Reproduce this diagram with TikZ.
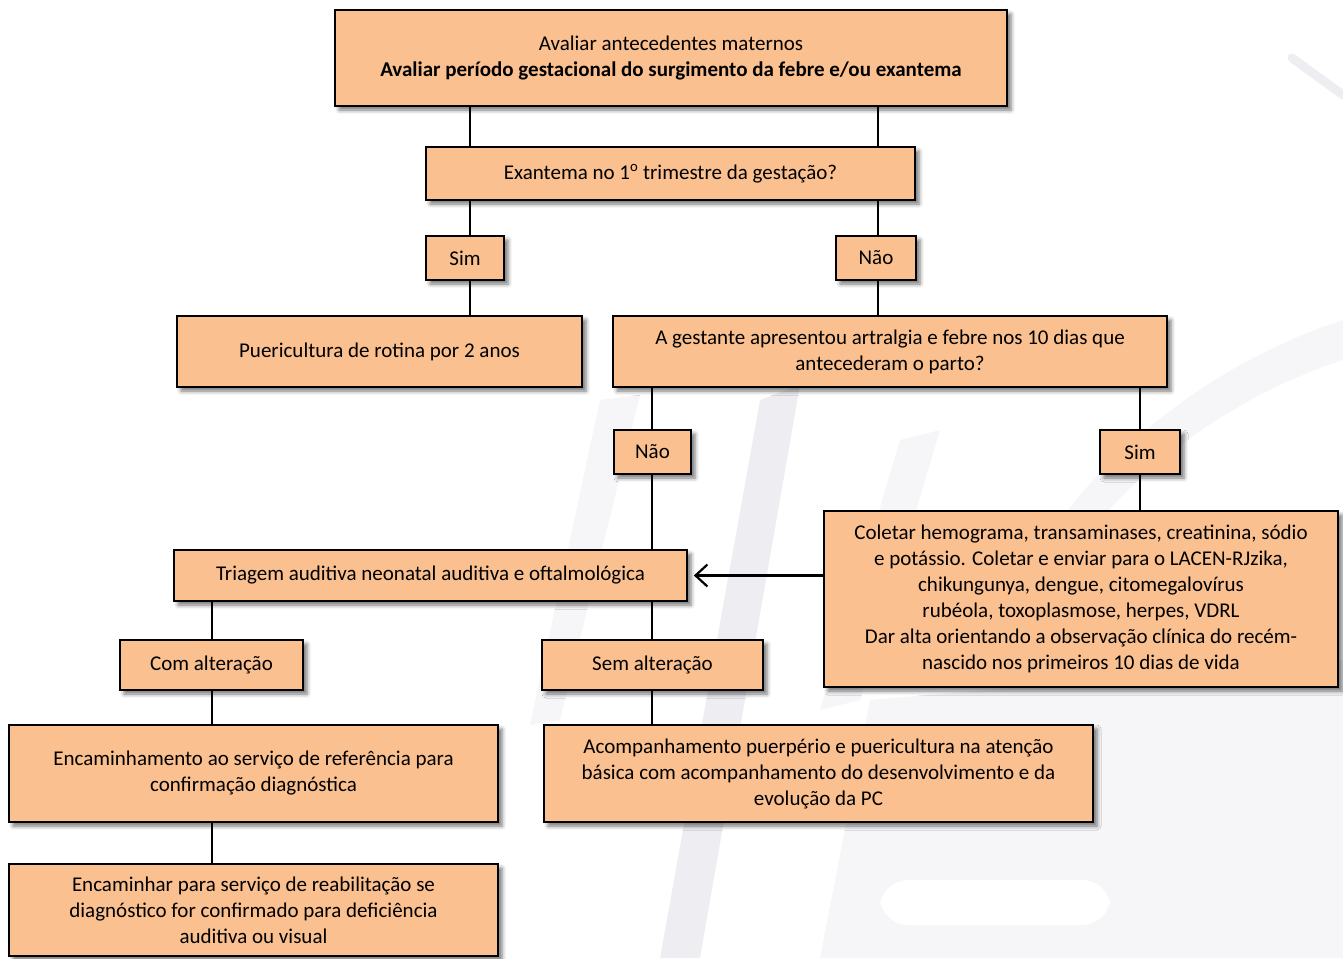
\documentclass[tikz,border=0pt]{standalone}
\usepackage{fontspec}
\setmainfont{Carlito}
\usetikzlibrary{shadows.blur,arrows.meta}
\definecolor{boxfill}{RGB}{250,192,144}
\definecolor{wmark}{RGB}{238,238,242}
\definecolor{wmarklight}{RGB}{246,246,248}
\tikzset{
  box/.style={draw=black, line width=1.6pt, fill=boxfill, align=center,
    inner sep=0pt, font=\fontsize{21}{26}\selectfont,
    blur shadow={shadow xshift=4pt, shadow yshift=-4pt,
      shadow blur radius=4pt, shadow opacity=55}},
  link/.style={draw=black, line width=1.6pt},
  wm/.style={fill=wmark, draw=none},
  wml/.style={fill=wmarklight, draw=none},
}
\begin{document}
\begin{tikzpicture}[x=1pt,y=-1pt]
\useasboundingbox (0,0) rectangle (1343,958);

% faint background logo
\fill[wml] (870,700) -- (1343,660) -- (1343,958) -- (820,958) -- cycle;
\fill[white, rounded corners=28pt] (880,880) rectangle (1110,925);
\fill[wml] (1343,320) .. controls (1220,360) and (1120,440) .. (1060,520)
  -- (1100,520) .. controls (1160,450) and (1250,390) .. (1343,360) -- cycle;
\fill[wm] (760,400) -- (800,385) -- (700,958) -- (660,958) -- cycle;
\fill[wml] (900,440) -- (940,430) -- (860,700) -- (820,710) -- cycle;
\fill[wml] (600,400) -- (640,395) -- (560,720) -- (530,725) -- cycle;
\draw[wmark, line width=9pt, line cap=round] (1292,58) -- (1343,95);

% boxes
\node[box, minimum width=672, minimum height=96] (top) at (671,58)
  {Avaliar antecedentes maternos\\\textbf{Avaliar período gestacional do surgimento da febre e/ou exantema}};
\node[box, minimum width=489, minimum height=53] (q1) at (670.5,173.5)
  {Exantema no 1\textsuperscript{o} trimestre da gestação?};
\node[box, minimum width=78, minimum height=44] (sim1) at (465,258) {Sim};
\node[box, minimum width=80, minimum height=44] (nao1) at (876,258) {Não};
\node[box, minimum width=405, minimum height=71] (puer) at (379.5,351.5)
  {Puericultura de rotina por 2 anos};
\node[box, minimum width=554, minimum height=71] (q2) at (890,351.5)
  {A gestante apresentou artralgia e febre nos 10 dias que\\antecederam o parto?};
\node[box, minimum width=77, minimum height=44] (nao2) at (652.5,452) {Não};
\node[box, minimum width=80, minimum height=44] (sim2) at (1140,452) {Sim};
\node[box, minimum width=514, minimum height=176] (coletar) at (1081,599)
  {Coletar hemograma, transaminases, creatinina, sódio\\
   e potássio. Coletar e enviar para o LACEN-RJzika,\\
   chikungunya, dengue, citomegalovírus\\
   rubéola, toxoplasmose, herpes, VDRL\\
   Dar alta orientando a observação clínica do recém-\\
   nascido nos primeiros 10 dias de vida};
\node[box, minimum width=513, minimum height=51] (triagem) at (430.5,575.5)
  {Triagem auditiva neonatal auditiva e oftalmológica};
\node[box, minimum width=183, minimum height=50] (com) at (211.5,665) {Com alteração};
\node[box, minimum width=221, minimum height=50] (sem) at (652.5,665) {Sem alteração};
\node[box, minimum width=489, minimum height=97] (encam) at (253.5,773.5)
  {Encaminhamento ao serviço de referência para\\confirmação diagnóstica};
\node[box, minimum width=549, minimum height=97] (acomp) at (818.5,773.5)
  {Acompanhamento puerpério e puericultura na atenção\\
   básica com acompanhamento do desenvolvimento e da\\
   evolução da PC};
\node[box, minimum width=489, minimum height=92] (reab) at (253.5,910)
  {Encaminhar para serviço de reabilitação se\\
   diagnóstico for confirmado para deficiência\\
   auditiva ou visual};

% connector columns
\coordinate (xa) at (470,0);
\coordinate (xb) at (878,0);
\coordinate (xc) at (652,0);
\coordinate (xd) at (1140,0);
\coordinate (xe) at (212,0);

\draw[link] (top.south -| xa) -- (q1.north -| xa);
\draw[link] (top.south -| xb) -- (q1.north -| xb);
\draw[link] (q1.south -| xa) -- (sim1.north -| xa);
\draw[link] (sim1.south -| xa) -- (puer.north -| xa);
\draw[link] (q1.south -| xb) -- (nao1.north -| xb);
\draw[link] (nao1.south -| xb) -- (q2.north -| xb);
\draw[link] (q2.south -| xc) -- (nao2.north -| xc);
\draw[link] (nao2.south -| xc) -- (triagem.north -| xc);
\draw[link] (q2.south -| xd) -- (sim2.north -| xd);
\draw[link] (sim2.south -| xd) -- (coletar.north -| xd);
\draw[link, line width=2.2pt, -{Straight Barb[length=12pt,width=22pt]}]
  (coletar.west |- triagem.east) -- ([xshift=6pt]triagem.east);
\draw[link] (triagem.south -| xe) -- (com.north -| xe);
\draw[link] (triagem.south -| xc) -- (sem.north -| xc);
\draw[link] (com.south -| xe) -- (encam.north -| xe);
\draw[link] (sem.south -| xc) -- (acomp.north -| xc);
\draw[link] (encam.south -| xe) -- (reab.north -| xe);
\end{tikzpicture}
\end{document}
